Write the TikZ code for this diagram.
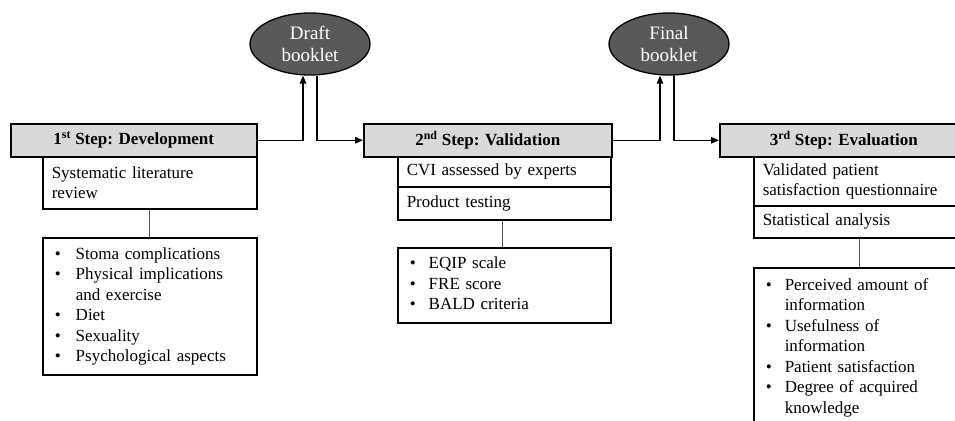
\documentclass[tikz,border=0pt]{standalone}
\usepackage{fontspec}
\setmainfont{Liberation Serif}
\usetikzlibrary{arrows.meta,shapes.geometric}
\definecolor{hdrgray}{HTML}{D9D9D9}
\definecolor{ellgray}{HTML}{595959}
\definecolor{conngray}{HTML}{555555}
\tikzset{
  hdr/.style={draw, line width=1.5pt, fill=hdrgray, anchor=north west, inner sep=0pt,
    font=\bfseries\fontsize{17}{20}\selectfont},
  txtbox/.style={draw, line width=1.5pt, fill=white, anchor=north west, inner ysep=0pt,
    inner xsep=9pt, align=left, font=\fontsize{17}{20.5}\selectfont},
  listbox/.style={draw, line width=1.5pt, fill=white, anchor=north west, inner ysep=0pt,
    inner xsep=12pt, align=left, font=\fontsize{17}{20.5}\selectfont},
  booklet/.style={ellipse, draw, line width=1.3pt, fill=ellgray, text=white, inner sep=0pt,
    minimum width=120pt, minimum height=62pt, align=center, font=\fontsize{19}{22.5}\selectfont},
  arr/.style={line width=1.5pt, -{Triangle[length=8pt,width=6.5pt]}},
  conn/.style={line width=0.8pt, draw=conngray}
}
\newcommand{\blt}{\textbullet}
\begin{document}
\begin{tikzpicture}[x=1pt,y=-1pt]
\useasboundingbox (0,0) rectangle (955,420);
\clip (0,0) rectangle (955,420);
% Step 1
\node[hdr, minimum width=246pt, minimum height=33pt] (h1) at (10,123) {1\textsuperscript{st} Step: Development};
\node[txtbox, text width=196pt, minimum height=52pt] (s1) at (42,156) {Systematic literature\\review};
\node[listbox, text width=190pt, minimum height=137pt] (l1) at (42,237) {%
\begin{tabular}{@{}p{21pt}@{}l@{}}
\blt & Stoma complications\\
\blt & Physical implications\\
     & and exercise\\
\blt & Diet\\
\blt & Sexuality\\
\blt & Psychological aspects
\end{tabular}};
\draw[conn] (s1.south) -- (l1.north);
% Step 2
\node[hdr, minimum width=248pt, minimum height=33pt] (h2) at (363,123) {2\textsuperscript{nd} Step: Validation};
\node[txtbox, text width=195pt, minimum height=30pt] (s2a) at (397,156) {CVI assessed by experts};
\node[txtbox, text width=195pt, minimum height=33pt] (s2b) at (397,186) {Product testing};
\node[listbox, text width=189pt, minimum height=75pt] (l2) at (397,247) {%
\begin{tabular}{@{}p{19pt}@{}l@{}}
\blt & EQIP scale\\
\blt & FRE score\\
\blt & BALD criteria
\end{tabular}};
\draw[conn] ([xshift=-2pt]s2b.south) -- ([xshift=-2pt]l2.north);
% Step 3
\node[hdr, minimum width=248pt, minimum height=33pt] (h3) at (719,123) {3\textsuperscript{rd} Step: Evaluation};
\node[txtbox, text width=196pt, minimum height=49pt] (s3a) at (753,156) {Validated patient\\satisfaction questionnaire};
\node[txtbox, text width=196pt, minimum height=32pt] (s3b) at (753,205) {Statistical analysis};
\node[listbox, text width=190pt, minimum height=160pt] (l3) at (753,267) {%
\begin{tabular}{@{}p{19pt}@{}l@{}}
\blt & Perceived amount of\\
     & information\\
\blt & Usefulness of\\
     & information\\
\blt & Patient satisfaction\\
\blt & Degree of acquired\\
     & knowledge
\end{tabular}};
\draw[conn] ([xshift=-1pt]s3b.south) -- ([xshift=-1pt]l3.north);
% Booklets
\node[booklet] (d) at (310,44) {Draft\\booklet};
\node[booklet] (f) at (669,44) {Final\\booklet};
% Arrows
\draw[arr] (h1.east) -| ([xshift=-7pt]d.south);
\draw[arr] ([xshift=7pt]d.south) |- (h2.west);
\draw[arr] (h2.east) -| ([xshift=-9pt]f.south);
\draw[arr] ([xshift=5pt]f.south) |- (h3.west);
\end{tikzpicture}
\end{document}
